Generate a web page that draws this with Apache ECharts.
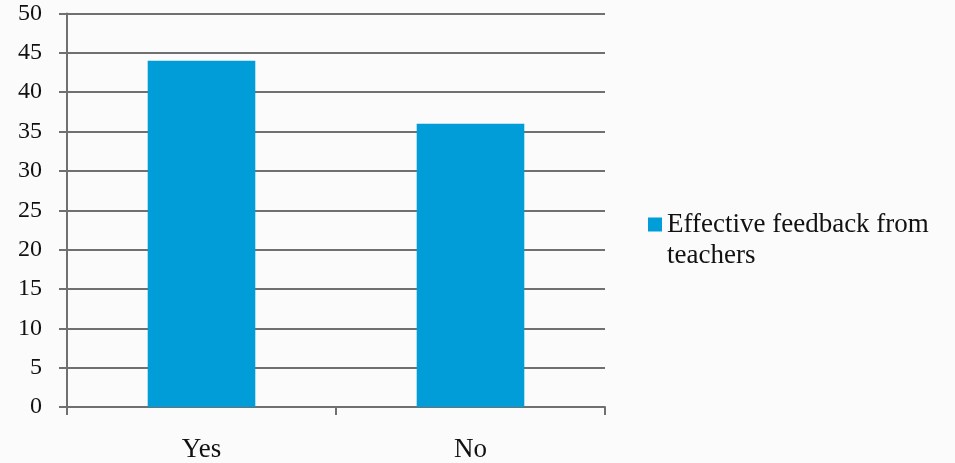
<!DOCTYPE html>
<html>
<head>
<meta charset="utf-8">
<style>
  html, body { margin: 0; padding: 0; background: #fbfbfb; }
  #chart { width: 955px; height: 463px; }
</style>
<script src="https://cdn.jsdelivr.net/npm/echarts@6/dist/echarts.min.js"></script>
</head>
<body>
<div id="chart"></div>
<script>
// Survey answers and counts
const categories = ['Yes', 'No'];
const feedbackCounts = [44, 36];
const seriesName = 'Effective feedback from teachers';
const legendLines = ['Effective feedback from', 'teachers'];
const yTicks = { min: 0, max: 50, step: 5 };

const FONT = '"Liberation Serif", "DejaVu Serif", serif';
const AXIS_GREY = '#707070';

const chart = echarts.init(document.getElementById('chart'), null, { renderer: 'canvas' });

chart.setOption({
  backgroundColor: '#fbfbfb',
  animation: false,
  grid: { left: 67, right: 350, top: 13.5, bottom: 52.5, containLabel: false },
  legend: {
    orient: 'vertical',
    left: 648,
    top: 178,
    padding: 0,
    icon: 'rect',
    itemWidth: 14,
    itemHeight: 14,
    data: [seriesName],
    // an empty first line keeps the icon level with the first text line
    formatter: () => '\n' + legendLines.join('\n'),
    textStyle: {
      fontFamily: FONT,
      fontSize: 27,
      color: '#111',
      lineHeight: 31
    }
  },
  xAxis: {
    type: 'category',
    data: categories,
    boundaryGap: true,
    axisLine: { lineStyle: { color: AXIS_GREY, width: 2 } },
    axisTick: { show: true, length: 8, lineStyle: { color: AXIS_GREY, width: 2 } },
    axisLabel: { fontFamily: FONT, fontSize: 27, color: '#111', margin: 29 },
    splitLine: { show: false }
  },
  yAxis: {
    type: 'value',
    min: yTicks.min,
    max: yTicks.max,
    interval: yTicks.step,
    axisLine: { show: true, lineStyle: { color: AXIS_GREY, width: 2 } },
    axisTick: { show: true, length: 8, lineStyle: { color: AXIS_GREY, width: 2 } },
    axisLabel: { fontFamily: FONT, fontSize: 24, color: '#111', margin: 25 },
    splitLine: { show: true, lineStyle: { color: AXIS_GREY, width: 2 } }
  },
  series: [{
    name: seriesName,
    type: 'bar',
    data: feedbackCounts,
    barWidth: '40%',
    itemStyle: { color: '#009dd9' }
  }]
});
</script>
</body>
</html>
